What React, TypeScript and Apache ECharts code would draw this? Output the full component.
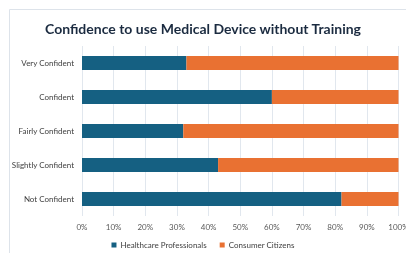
import React, { useEffect, useRef } from "react";
import * as echarts from "echarts";

const categories = ["Not Confident", "Slightly Confident", "Fairly Confident", "Confident", "Very Confident"];
const healthcare = [82, 43, 32, 60, 33];
const consumer = [18, 57, 68, 40, 67];
const xTicks = [0, 10, 20, 30, 40, 50, 60, 70, 80, 90, 100];

export default function App() {
  const ref = useRef<HTMLDivElement>(null);
  useEffect(() => {
    const chart = echarts.init(ref.current!, null, { renderer: "svg" });
    chart.setOption({
      animation: false,
      textStyle: { fontFamily: "Lato" },
      title: {
        text: "Confidence to use Medical Device without Training",
        left: "center",
        top: 16,
        textStyle: { fontSize: 14, fontWeight: "bold", color: "#1b2b40", fontFamily: "Lato" },
      },
      graphic: [
        {
          type: "line",
          shape: { x1: 9.5, y1: 9.5, x2: 406, y2: 9.5 },
          style: { stroke: "#dde3ea", lineWidth: 1 },
          silent: true,
        },
        {
          type: "line",
          shape: { x1: 9.5, y1: 9.5, x2: 9.5, y2: 253 },
          style: { stroke: "#dde3ea", lineWidth: 1 },
          silent: true,
        },
      ],
      legend: {
        bottom: 4,
        left: "center",
        padding: 0,
        itemWidth: 5,
        itemHeight: 5,
        itemGap: 13,
        icon: "rect",
        textStyle: { fontSize: 8, color: "#404040", padding: [0, 0, 0, -1] },
        data: ["Healthcare Professionals", "Consumer Citizens"],
      },
      grid: { left: 82, right: 7.5, top: 46, bottom: 37, containLabel: false, outerBoundsMode: "none" },
      xAxis: {
        type: "value",
        min: xTicks[0],
        max: xTicks[xTicks.length - 1],
        interval: 10,
        axisLine: { show: false },
        axisTick: { show: false },
        splitLine: { show: true, lineStyle: { color: "#e1e7ee", width: 1 } },
        axisLabel: { formatter: "{value}%", fontSize: 8, color: "#595959", margin: 7 },
      },
      yAxis: {
        type: "category",
        data: categories,
        axisLine: { show: false },
        axisTick: { show: false },
        axisLabel: { fontSize: 8, color: "#404040", margin: 8 },
      },
      series: [
        {
          name: "Healthcare Professionals",
          type: "bar",
          stack: "total",
          data: healthcare,
          barWidth: 14,
          itemStyle: { color: "#156082" },
        },
        {
          name: "Consumer Citizens",
          type: "bar",
          stack: "total",
          data: consumer,
          barWidth: 14,
          itemStyle: { color: "#E97132" },
        },
      ],
    });
    return () => chart.dispose();
  }, []);
  return (
    <div style={{ position: "fixed", left: 0, top: 0, width: 406, height: 253, overflow: "hidden" }}>
      <div ref={ref} style={{ width: 406, height: 253 }} />
    </div>
  );
}
